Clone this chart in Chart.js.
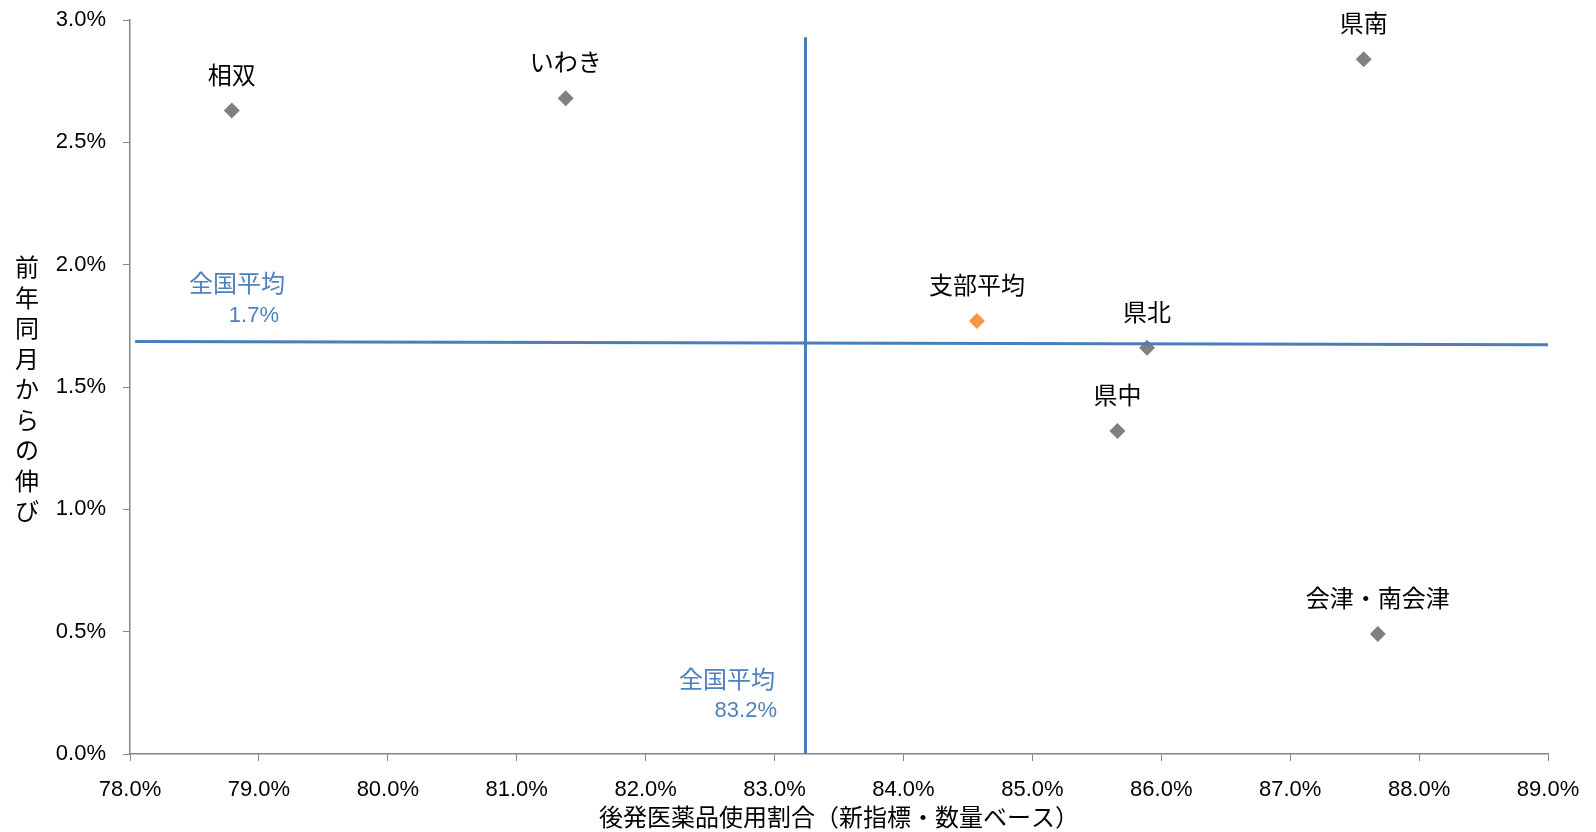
<!DOCTYPE html>
<html>
<head>
<meta charset="utf-8">
<script src="https://cdn.jsdelivr.net/npm/chart.js@4"></script>
<style>
  html, body { margin: 0; padding: 0; background: #fff; }
  #wrap { width: 1596px; height: 832px; }
</style>
</head>
<body>
<div id="wrap"><canvas id="myChart" width="1596" height="832"></canvas></div>
<script>
// regions: generic drug share (x, %) vs growth from same month last year (y, %)
const regions = ['相双', 'いわき', '県南', '県北', '県中', '会津・南会津'];
const regionShare = [78.79, 81.38, 87.57, 85.89, 85.66, 87.68];
const regionGrowth = [2.63, 2.68, 2.84, 1.66, 1.32, 0.49];

const branchName = '支部平均';
const branchShare = [84.57];
const branchGrowth = [1.77];

// national average reference lines
const nationalShareLineX = [83.24, 83.24];
const nationalShareLineY = [0, 2.93];
const nationalGrowthLineX = [78.04, 89.0];
const nationalGrowthLineY = [1.686, 1.673];
const nationalShareText = ['全国平均', '83.2%'];
const nationalGrowthText = ['全国平均', '1.7%'];

const xTitle = '後発医薬品使用割合（新指標・数量ベース）';
const yTitle = '前年同月からの伸び';

const jpFont = '"Noto Sans CJK JP", "Noto Sans", sans-serif';
const numFont = '"Liberation Sans", Arial, sans-serif';
const blue = '#4A7EBB';

const toPoints = (xs, ys) => xs.map((x, i) => ({ x: x, y: ys[i] }));

// labels above markers + national average captions + stacked y title
const labelPlugin = {
  id: 'labels',
  afterDatasetsDraw(chart) {
    const ctx = chart.ctx;
    ctx.save();
    ctx.textAlign = 'center';
    ctx.textBaseline = 'middle';
    ctx.fillStyle = '#000';
    ctx.font = '24px ' + jpFont;
    [0, 1].forEach(di => {
      const meta = chart.getDatasetMeta(di);
      const names = di === 0 ? regions : [branchName];
      meta.data.forEach((pt, i) => {
        ctx.fillText(names[i], pt.x, pt.y - 36);
      });
    });

    // national average captions
    ctx.fillStyle = '#4F81BD';
    ctx.textAlign = 'right';
    ctx.font = '24px ' + jpFont;
    ctx.fillText(nationalGrowthText[0], 285, 283);
    ctx.fillText(nationalShareText[0], 775, 679);
    ctx.font = '22px ' + numFont;
    ctx.fillText(nationalGrowthText[1], 279, 316);
    ctx.fillText(nationalShareText[1], 777, 711);

    // vertical y-axis title
    ctx.fillStyle = '#000';
    ctx.textAlign = 'center';
    ctx.font = '24px ' + jpFont;
    Array.from(yTitle).forEach((c, i) => ctx.fillText(c, 27, 267 + i * 30.5));
    ctx.restore();
  }
};

new Chart(document.getElementById('myChart'), {
  type: 'scatter',
  data: {
    datasets: [
      {
        label: '地域',
        data: toPoints(regionShare, regionGrowth),
        pointStyle: 'rectRot',
        pointRadius: 8,
        pointHoverRadius: 8,
        backgroundColor: '#808080',
        borderColor: '#808080',
        borderWidth: 0,
        order: 2
      },
      {
        label: branchName,
        data: toPoints(branchShare, branchGrowth),
        pointStyle: 'rectRot',
        pointRadius: 8,
        pointHoverRadius: 8,
        backgroundColor: '#F79646',
        borderColor: '#F79646',
        borderWidth: 0,
        order: 2
      },
      {
        label: '全国平均（使用割合）',
        data: toPoints(nationalShareLineX, nationalShareLineY),
        showLine: true,
        borderColor: blue,
        borderWidth: 3,
        pointRadius: 0,
        order: 1
      },
      {
        label: '全国平均（伸び）',
        data: toPoints(nationalGrowthLineX, nationalGrowthLineY),
        showLine: true,
        borderColor: blue,
        borderWidth: 3,
        pointRadius: 0,
        order: 1
      }
    ]
  },
  options: {
    responsive: false,
    animation: false,
    layout: { padding: { top: 20, right: 48, left: 0, bottom: 0 } },
    plugins: {
      legend: { display: false },
      tooltip: { enabled: false }
    },
    scales: {
      x: {
        type: 'linear',
        min: 78,
        max: 89,
        afterFit(scale) { scale.height = 78; scale.paddingLeft = 0; scale.paddingRight = 0; },
        grid: { drawOnChartArea: false, drawTicks: true, tickLength: 7, color: '#868686' },
        border: { color: '#868686', width: 1.5 },
        ticks: {
          stepSize: 1,
          padding: 16,
          color: '#000',
          font: { family: numFont, size: 22 },
          callback: v => v.toFixed(1) + '%'
        },
        title: {
          display: true,
          text: xTitle,
          color: '#000',
          font: { family: jpFont, size: 24 },
          padding: { top: 0, bottom: 1 }
        }
      },
      y: {
        type: 'linear',
        min: 0,
        max: 3,
        afterFit(scale) { scale.width = 130; scale.paddingTop = 0; scale.paddingBottom = 0; },
        grid: { drawOnChartArea: false, drawTicks: true, tickLength: 7, color: '#868686' },
        border: { color: '#868686', width: 1.5 },
        ticks: {
          stepSize: 0.5,
          padding: 17,
          color: '#000',
          font: { family: numFont, size: 22 },
          callback: v => v.toFixed(1) + '%'
        }
      }
    }
  },
  plugins: [labelPlugin]
});
</script>
</body>
</html>
